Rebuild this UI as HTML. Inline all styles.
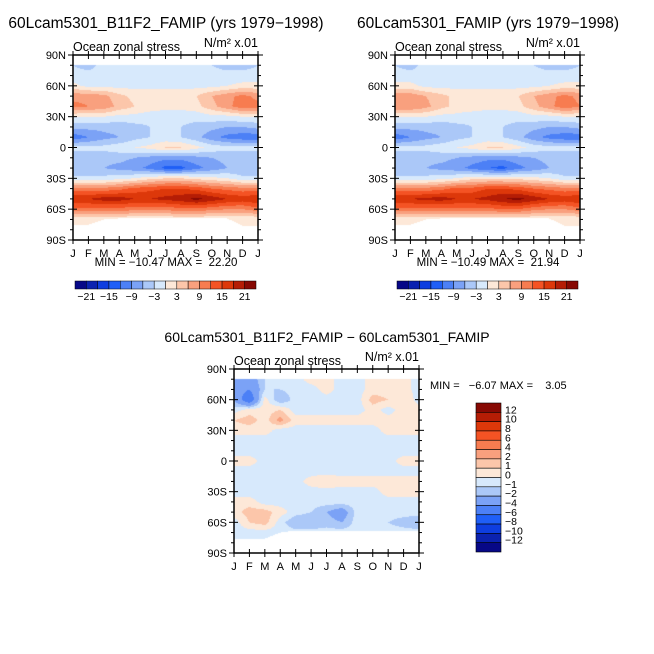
<!DOCTYPE html>
<html><head><meta charset="utf-8">
<style>
body{margin:0;background:#fff;}
#wrap{position:relative;width:654px;height:654px;overflow:hidden;font-family:"Liberation Sans",sans-serif;}
canvas{position:absolute;}
svg{position:absolute;left:0;top:0;}
</style></head>
<body>
<div id="wrap">
<canvas id="c1" width="185" height="185" style="left:73px;top:55px"></canvas>
<canvas id="c2" width="185" height="185" style="left:395px;top:55px"></canvas>
<canvas id="c3" width="185" height="184" style="left:234px;top:369px"></canvas>
<svg id="s" width="654" height="654"></svg>
</div>
<script>
const months=["J","F","M","A","M","J","J","A","S","O","N","D","J"];
const lats=[80,70,60,50,40,30,20,10,0,-10,-20,-30,-40,-50,-60,-70];
const levelsTop=[-21,-18,-15,-12,-9,-6,-3,0,3,6,9,12,15,18,21];
const levelsDiff=[-12,-10,-8,-6,-4,-2,-1,0,1,2,4,6,8,10,12];
const tickLabelsTop=["−21","−15","−9","−3","3","9","15","21"];
const tickLabelsDiff=["12","10","8","6","4","2","1","0","−1","−2","−4","−6","−8","−10","−12"];
const colors=["#070887","#0b22b0","#0e3ee0","#1f5ff7","#4c80f6","#7ba2f6","#abc8f8","#d7e9fc","#fde8d8","#fcc6aa","#f9a07e","#f77c50","#f45324","#dd380a","#b51d05","#870903"];
const edge1=[-75,-75,-70,-69,-69,-69,-69,-69,-69,-69,-69,-76,-76];
const edge2=[-75,-75,-70,-69,-69,-69,-69,-69,-69,-69,-69,-76,-76];
const edge3=[-76,-76,-76,-70,-68,-68,-68,-68,-68,-68,-68,-68,-68];
const model1=[
[-3,-4,-2,-2,-1,-1,-1,-1,-2,-3,-4,-4,-3],
[-2,-2,-2,-2,-1,-1,-1,-1,-1,-2,-2,-2,-2],
[1,-1,-1,-1,-1,-1,-1,-1,-1,-1,0,1,1],
[8,8,7,4,2,2,2,2,3,6,8,10,8],
[10,9,8,5,3,2,1,1,2,5,8,11,10],
[0,0,0,-1,-1,-2,-2,-2,-2,-1,-1,0,0],
[-5,-5,-5,-5,-4,-3,-3,-3,-4,-5,-6,-6,-5],
[-11,-9,-7,-6,-4,-3,-2,-3,-5,-8,-10,-11,-11],
[-2,-2,-2,-1,0,1,3,3,1,-1,-2,-2,-2],
[-5,-5,-5,-5,-6,-7,-8,-8,-7,-6,-5,-5,-5],
[-6,-6,-6,-7,-8,-10,-13,-13,-10,-8,-6,-6,-6],
[-2,-2,-2,-1,0,2,3,3,2,1,0,-2,-2],
[10,10,10,11,13,14,15,15,14,12,11,10,10],
[18,18,19.5,19.5,18,18,19,20,22,20,18,17,18],
[11,11,11,11,10,10,10,11,11,10,9,9,11],
[0,0,0,0,0,0,0,0,0,0,0,0,0]];
const model2=[
[-3,-4,-2,-2,-1,-1,-1,-1,-2,-3,-4,-4,-3],
[-2,-2,-2,-1,-1,-1,-1,-1,-1,-2,-2,-2,-2],
[1,1,-1,-1,-1,-1,-1,-1,-1,-1,0,1,1],
[8,8,6,4,2,2,2,2,3,6,8,10,8],
[9,9,7,4,2,2,1,1,2,5,8,11,9],
[0,0,0,-1,-1,-2,-2,-2,-2,-1,-1,0,0],
[-5,-5,-5,-5,-4,-3,-3,-3,-4,-5,-6,-6,-5],
[-11,-9,-7,-6,-4,-3,-2,-3,-5,-8,-10,-11,-11],
[-2,-2,-2,-1,0,1,3,3,1,-1,-2,-2,-2],
[-5,-5,-5,-5,-6,-7,-8,-8,-7,-6,-5,-5,-5],
[-6,-6,-6,-7,-8,-10,-12,-13,-10,-8,-6,-6,-6],
[-2,-2,-2,-1,0,2,2,2,2,1,0,-2,-2],
[10,10,10,11,13,13,15,15,14,12,11,10,10],
[18,18,19,19.5,18,18,19,21,22,20,18,17,18],
[11,11,11,11,11,11,11,12,12,10,9,9,11],
[0,0,0,0,0,0,0,0,0,0,0,0,0]];
const diff=[
[-3,-3,-1,-1,-0.5,0.5,0.5,-0.5,-0.5,0.5,0.5,0.5,-0.5],
[-3,-4,-1,-1,-0.5,-0.5,0.5,-0.5,-0.5,0.5,0.5,0.5,-0.5],
[-2,-6,0.5,-2,-0.5,-0.5,-0.5,-0.5,-0.5,1.5,1,1,-0.5],
[-0.5,0.5,0.5,1,-0.5,-0.5,-0.5,-0.5,-0.5,0.5,-0.5,0.5,0.5],
[1,1.5,0.5,2.5,0.5,0.5,0.5,0.5,0.5,0.5,0.5,0.5,0.5],
[0.5,0.5,0.5,-0.5,-0.5,-0.5,-0.5,-0.5,-0.5,-0.5,0.5,0.5,0.5],
[-0.5,-0.5,-0.5,-0.5,-0.5,-0.5,-0.5,-0.5,-0.5,-0.5,-0.5,-0.5,-0.5],
[-0.5,-0.5,-0.5,-0.5,-0.5,-0.5,-0.5,-0.5,-0.5,-0.5,-0.5,-0.5,-0.5],
[0.5,0.5,-0.5,-0.5,-0.5,-0.5,-0.5,-0.5,-0.5,-0.5,-0.5,0.5,0.5],
[-0.5,-0.5,-0.5,-0.5,-0.5,-0.5,-0.5,-0.5,-0.5,-0.5,-0.5,-0.5,-0.5],
[-0.5,-0.5,-0.5,-0.5,-0.5,0.5,1,0.5,0.5,0.5,0.5,0.5,0.5],
[-0.5,-0.5,-0.5,-0.5,-0.5,-0.5,-0.5,-0.5,-0.5,-0.5,0.5,0.5,0.5],
[0.5,0.5,-0.5,-0.5,-0.5,-0.5,-0.5,-0.5,-0.5,-0.5,-0.5,-0.5,-0.5],
[0.5,1.5,1.5,0.5,-0.5,-1,-2,-3,-0.5,-0.5,-0.5,-0.5,-0.5],
[-0.5,1,1.5,-0.5,-2,-2,-1.5,-2,-0.5,-0.5,-1,-1.5,-2],
[-0.5,-0.5,-0.5,-0.5,-0.5,-0.5,-0.5,-0.5,-0.5,-0.5,-0.5,-0.5,-0.5]];

function hex(c){return [parseInt(c.substr(1,2),16),parseInt(c.substr(3,2),16),parseInt(c.substr(5,2),16)];}
const rgb=colors.map(hex);
function render(id,grid,levels,edge){
  const cv=document.getElementById(id),ctx=cv.getContext('2d');
  const W=cv.width,H=cv.height,img=ctx.createImageData(W,H);
  for(let py=0;py<H;py++)for(let px=0;px<W;px++){
    const m=(px+0.5)/W*12, lat=90-(py+0.5)/H*180;
    const mi=Math.min(11,Math.floor(m)),mf=m-mi;
    const e=edge[mi]*(1-mf)+edge[mi+1]*mf;
    let c=[255,255,255];
    if(lat<=80.5&&lat>=e){
      let r=(80-lat)/10; r=Math.max(0,Math.min(lats.length-1.001,r));
      const ri=Math.floor(r),rf=r-ri;
      const v=(grid[ri][mi]*(1-mf)+grid[ri][mi+1]*mf)*(1-rf)+(grid[ri+1][mi]*(1-mf)+grid[ri+1][mi+1]*mf)*rf;
      let k=0;while(k<levels.length&&v>=levels[k])k++;
      c=rgb[k];
    }
    const o=(py*W+px)*4;img.data[o]=c[0];img.data[o+1]=c[1];img.data[o+2]=c[2];img.data[o+3]=255;
  }
  ctx.putImageData(img,0,0);
}
render('c1',model1,levelsTop,edge1);
render('c2',model2,levelsTop,edge2);
render('c3',diff,levelsDiff,edge3);

const S=document.getElementById('s'),NS='http://www.w3.org/2000/svg';
function el(t,a,txt){const e=document.createElementNS(NS,t);for(const k in a)e.setAttribute(k,a[k]);if(txt!==undefined)e.textContent=txt;S.appendChild(e);return e;}
function axes(x0,y0,w,h,name){
  const f=el('rect',{x:x0,y:y0,width:w,height:h,fill:'none',stroke:'#000','stroke-width':1.5});
  
  
  const ylab=["90N","60N","30N","0","30S","60S","90S"];
  for(let d=0;d<=18;d++){
    const y=y0+d*h/18,maj=d%3==0,L=maj?5:3;
    el('line',{x1:x0-L,y1:y,x2:x0+(maj?4:0),y2:y,stroke:'#000','stroke-width':1});
    el('line',{x1:x0+w+L,y1:y,x2:x0+w-(maj?4:0),y2:y,stroke:'#000','stroke-width':1});
    if(maj){const t=el('text',{x:x0-7,y:y+4,'font-size':11,'text-anchor':'end'},ylab[d/3]);
      
      }
  }
  for(let i=0;i<=12;i++){
    const x=x0+i*w/12;
    el('line',{x1:x,y1:y0+h+4,x2:x,y2:y0+h-4,stroke:'#000','stroke-width':1});
    el('line',{x1:x,y1:y0-4,x2:x,y2:y0+4,stroke:'#000','stroke-width':1});
    const t=el('text',{x:x,y:y0+h+17,'font-size':11,'text-anchor':'middle'},months[i]);
    
    
  }
  const a=el('text',{x:x0,y:y0-4,'font-size':12.5},'Ocean zonal stress');
  
  
  const b=el('text',{x:x0+w,y:y0-8,'font-size':12.5,'text-anchor':'end'},'N/m² x.01');
  
  
}
function title(x,y,s,name,fs){const t=el('text',{x:x,y:y,'font-size':fs,'text-anchor':'middle'},s);
  
  }
function hbar(x0,y0,w,h,name,minmax,mx){
  const bw=w/16;
  for(let i=0;i<16;i++){const r=el('rect',{x:x0+i*bw,y:y0,width:bw,height:h,fill:colors[i],stroke:'#000','stroke-width':0.5});
    
    }
  tickLabelsTop.forEach((s,j)=>{const t=el('text',{x:x0+(2*j+1)*bw,y:y0+h+11,'font-size':10.5,'text-anchor':'middle'},s);
    
    });
  const m=el('text',{x:mx,y:y0-15,'font-size':11.5,'text-anchor':'middle','xml:space':'preserve',style:'white-space:pre'},minmax);
  
  
}
title(166,28,'60Lcam5301_B11F2_FAMIP (yrs 1979−1998)','title-b11f2',15.5);
title(488,28,'60Lcam5301_FAMIP (yrs 1979−1998)','title-famip',15.5);
title(327,342,'60Lcam5301_B11F2_FAMIP − 60Lcam5301_FAMIP','title-difference',14);
axes(73,55,185,185,'b11f2');
axes(395,55,185,185,'famip');
axes(234,369,185,184,'difference');
hbar(75,281,181,8,'colorbar-b11f2','MIN = −10.47 MAX =  22.20',166);
hbar(397,281,181,8,'colorbar-famip','MIN = −10.49 MAX =  21.94',488);
(function(){
  const x0=476,y0=403,w=25,h=149,bh=h/16;
  for(let i=0;i<16;i++){const r=el('rect',{x:x0,y:y0+i*bh,width:w,height:bh,fill:colors[15-i],stroke:'#000','stroke-width':0.6});
    
    }
  tickLabelsDiff.forEach((s,j)=>{const t=el('text',{x:x0+w+4,y:y0+(j+1)*bh+1,'font-size':10.5},s);
    
    });
  const m=el('text',{x:430,y:389,'font-size':11,'xml:space':'preserve',style:'white-space:pre'},'MIN =   −6.07 MAX =    3.05');
  
  
})();
</script>
</body></html>
